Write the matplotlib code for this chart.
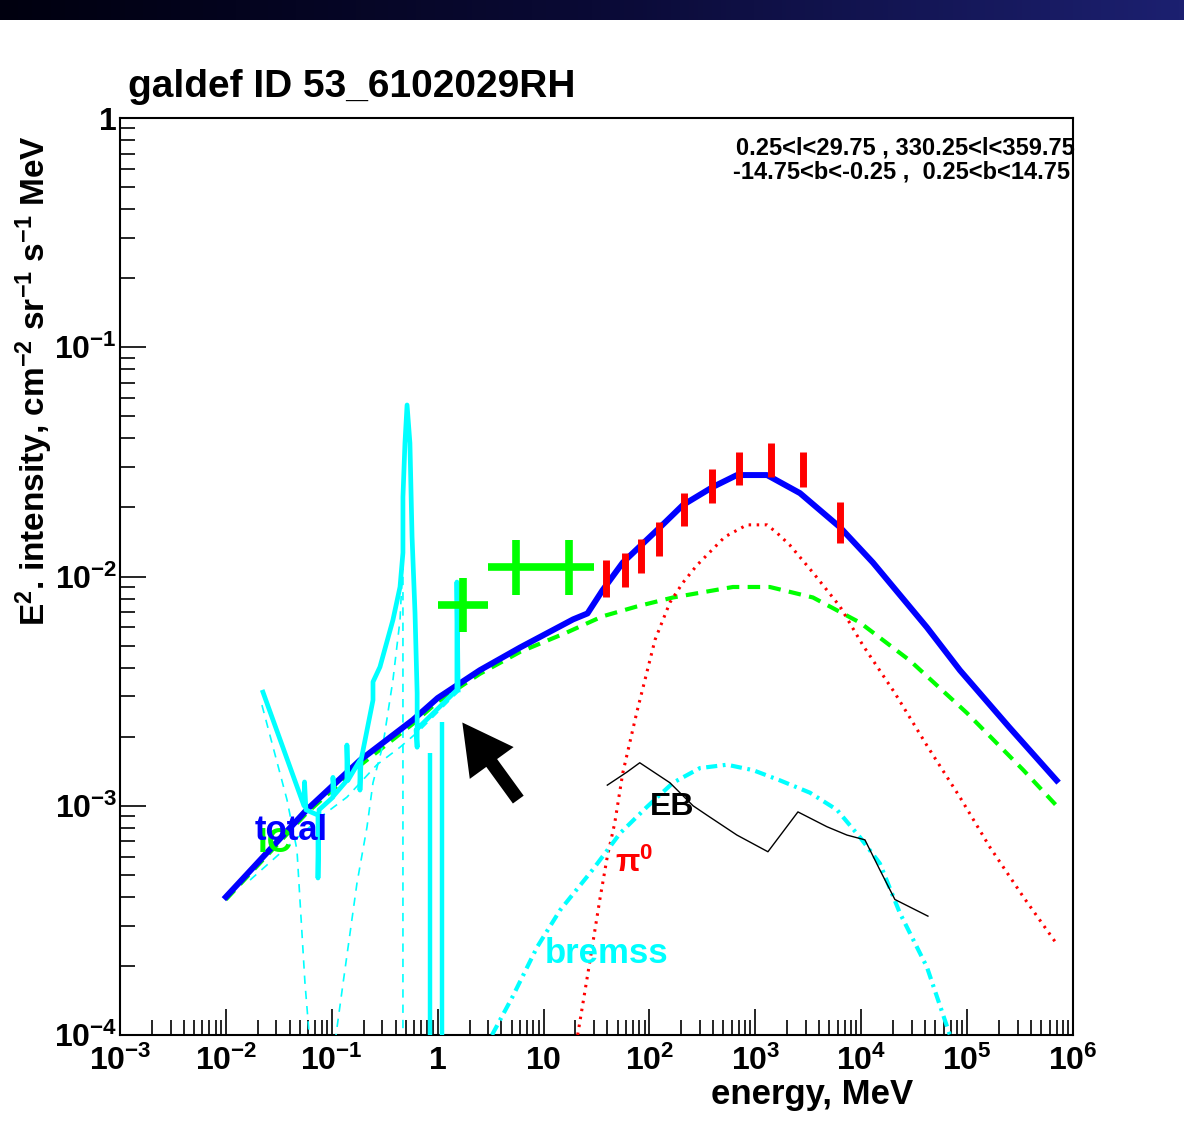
import numpy as np
import matplotlib
matplotlib.use('Agg')
import matplotlib.pyplot as plt
from matplotlib.ticker import LogLocator, FixedLocator, FixedFormatter, NullFormatter
from matplotlib.colors import LinearSegmentedColormap

# ---------------- data ----------------
# total model
E_total = [0.01, 0.058, 0.185, 0.585, 1.0, 2.5, 6.0, 19, 26, 36, 56, 126, 207, 398,
           670, 1290, 2640, 6300, 12900, 41700, 85500, 2.5e5, 7.0e5]
I_total = [4.0e-4, 9.6e-4, 1.58e-3, 2.37e-3, 2.95e-3, 3.9e-3, 4.9e-3, 6.5e-3, 6.9e-3,
           8.7e-3, 1.15e-2, 1.64e-2, 2.05e-2, 2.46e-2, 2.77e-2, 2.77e-2, 2.31e-2,
           1.64e-2, 1.15e-2, 6.0e-3, 3.9e-3, 2.2e-3, 1.29e-3]
# inverse Compton
E_ic = [0.01, 0.058, 0.185, 0.585, 1.0, 2.5, 6.0, 16.6, 36, 76, 167, 614, 1370, 3500,
        9700, 28800, 99500, 3.4e5, 7.0e5]
I_ic = [3.9e-4, 9.3e-4, 1.5e-3, 2.28e-3, 2.84e-3, 3.76e-3, 4.69e-3, 5.7e-3, 6.7e-3,
        7.4e-3, 8.1e-3, 9.0e-3, 9.0e-3, 8.1e-3, 6.3e-3, 4.3e-3, 2.54e-3, 1.43e-3, 1.0e-3]
# pi0 decay
E_pi0 = [21, 27.4, 34, 40, 47, 56, 76, 113, 156, 207, 281, 516, 833, 1290, 1600, 2120,
         3500, 6300, 10400, 20800, 42700, 85500, 1.64e5, 3.4e5, 7.0e5]
I_pi0 = [1.0e-4, 2.1e-4, 3.9e-4, 6.0e-4, 8.4e-4, 1.39e-3, 2.56e-3, 5.3e-3, 7.7e-3,
         9.4e-3, 1.12e-2, 1.49e-2, 1.68e-2, 1.68e-2, 1.55e-2, 1.37e-2, 1.04e-2, 7.4e-3,
         5.0e-3, 3.1e-3, 1.8e-3, 1.09e-3, 6.6e-4, 4.0e-4, 2.5e-4]
# bremsstrahlung
E_br = [3.26, 5.1, 8.7, 14.3, 29, 53, 95, 167, 300, 540, 950, 1710, 3280, 5900, 9700,
        15000, 23200, 41700, 68800]
I_br = [1.0e-4, 1.47e-4, 2.42e-4, 3.5e-4, 5.25e-4, 7.6e-4, 9.9e-4, 1.26e-3, 1.46e-3,
        1.51e-3, 1.43e-3, 1.29e-3, 1.14e-3, 9.6e-4, 7.3e-4, 5.6e-4, 3.4e-4, 1.98e-4, 1.0e-4]
# extragalactic background
E_eb = [40, 61, 81, 156, 258, 349, 670, 1315, 2525, 4745, 7330, 10840, 15000, 20800, 42650]
I_eb = [1.23e-3, 1.40e-3, 1.54e-3, 1.26e-3, 1.0e-3, 9.1e-4, 7.45e-4, 6.3e-4, 9.4e-4,
        8.1e-4, 7.45e-4, 7.1e-4, 5.25e-4, 3.9e-4, 3.3e-4]
# COMPTEL points (green crosses)
comptel_E_lo = [1, 3, 10]
comptel_E_hi = [3, 10, 30]
comptel_I = [7.5e-3, 1.10e-2, 1.10e-2]
comptel_I_lo = [5.7e-3, 8.3e-3, 8.3e-3]
comptel_I_hi = [9.9e-3, 1.44e-2, 1.44e-2]
# EGRET points (red bars)
egret_E_lo = [30, 50, 70, 100, 150, 300, 500, 1000, 2000, 4000]
egret_E_hi = [50, 70, 100, 150, 300, 500, 1000, 2000, 4000, 10000]
egret_I_lo = [8.1e-3, 9.0e-3, 1.04e-2, 1.23e-2, 1.66e-2, 2.09e-2, 2.51e-2, 2.72e-2, 2.46e-2, 1.40e-2]
egret_I_hi = [1.18e-2, 1.27e-2, 1.46e-2, 1.73e-2, 2.31e-2, 2.94e-2, 3.49e-2, 3.82e-2, 3.49e-2, 2.11e-2]
# low-energy spectrum (thick cyan, with spikes)
E_lowspec = [0.0224, 0.0546, 0.0553, 0.0570, 0.0741, 0.0741, 0.0758, 0.1026, 0.1026,
             0.105, 0.139, 0.139, 0.142, 0.1845, 0.1845, 0.189, 0.245, 0.245, 0.285,
             0.378, 0.441, 0.470, 0.470, 0.491, 0.514, 0.547, 0.573, 0.611, 0.640,
             0.640, 0.625, 1.52, 1.52, 1.56]
I_lowspec = [3.13e-3, 1.0e-3, 1.27e-3, 9.6e-4, 9.1e-4, 4.84e-4, 9.6e-4, 1.09e-3, 1.33e-3,
             1.11e-3, 1.29e-3, 1.84e-3, 1.29e-3, 1.58e-3, 1.17e-3, 1.58e-3, 2.89e-3,
             3.47e-3, 4.03e-3, 6.46e-3, 9.0e-3, 1.27e-2, 2.22e-2, 3.82e-2, 5.6e-2,
             3.82e-2, 1.49e-2, 6.93e-3, 3.10e-3, 1.80e-3, 2.14e-3, 3.20e-3, 9.46e-3, 3.20e-3]
spike_E = [0.845, 1.10]
spike_I_top = [1.70e-3, 2.32e-3]
spike_I_bot = [1e-6, 1e-6]
# thin dashed cyan components
E_d1 = [0.0219, 0.0378, 0.0469, 0.0558, 0.0637]
I_d1 = [2.75e-3, 1.06e-3, 6.41e-4, 1.69e-4, 8e-5]
E_d2 = [0.1026, 0.128, 0.173, 0.215, 0.245, 0.304, 0.378, 0.441, 0.470, 0.470]
I_d2 = [8e-5, 1.69e-4, 4.6e-4, 8.07e-4, 1.26e-3, 1.84e-3, 3.53e-3, 6.46e-3, 1.18e-2, 8e-5]
E_d3 = [0.0169, 0.0826, 0.139, 0.267, 0.441, 0.681, 1.39, 1.64]
I_d3 = [4.74e-4, 9.1e-4, 1.09e-3, 1.51e-3, 1.80e-3, 2.14e-3, 2.98e-3, 3.20e-3]

x_ticks = [1e-3, 1e-2, 1e-1, 1, 10, 1e2, 1e3, 1e4, 1e5, 1e6]
x_ticklabels = [r'$\mathbf{10^{-3}}$', r'$\mathbf{10^{-2}}$', r'$\mathbf{10^{-1}}$', r'$\mathbf{1}$',
                r'$\mathbf{10}$', r'$\mathbf{10^{2}}$', r'$\mathbf{10^{3}}$', r'$\mathbf{10^{4}}$',
                r'$\mathbf{10^{5}}$', r'$\mathbf{10^{6}}$']
y_ticks = [1e-4, 1e-3, 1e-2, 1e-1, 1]
y_ticklabels = [r'$\mathbf{10^{-4}}$', r'$\mathbf{10^{-3}}$', r'$\mathbf{10^{-2}}$',
                r'$\mathbf{10^{-1}}$', r'$\mathbf{1}$']

# ---------------- style ----------------
plt.rcParams['font.family'] = ['Liberation Sans', 'DejaVu Sans']
plt.rcParams['mathtext.fontset'] = 'custom'
plt.rcParams['mathtext.rm'] = 'Liberation Sans'
plt.rcParams['mathtext.bf'] = 'Liberation Sans:bold'
plt.rcParams['mathtext.it'] = 'Liberation Sans:italic'
plt.rcParams['lines.scale_dashes'] = False

W, H = 1184, 1145
DPI = 100
fig = plt.figure(figsize=(W / DPI, H / DPI), dpi=DPI)
fig.patch.set_facecolor('white')


def fx(px):
    return px / W


def fy(py):
    return 1 - py / H


# top gradient bar
bar = fig.add_axes([0, fy(20), 1, 20 / H])
cmap = LinearSegmentedColormap.from_list('bar', ['#00000f', '#0a0a35', '#1c2070'])
bar.imshow(np.linspace(0, 1, 256)[None, :], aspect='auto', cmap=cmap, extent=[0, 1, 0, 1])
bar.axis('off')

ax = fig.add_axes([fx(120), fy(1035), fx(1073) - fx(120), fy(118) - fy(1035)])
ax.set_xscale('log')
ax.set_yscale('log')
ax.set_xlim(1e-3, 1e6)
ax.set_ylim(1e-4, 1)

BLUE = '#0000ff'
GREEN = '#00ff00'
RED = '#ff0000'
CYAN = '#00ffff'

ax.plot(E_ic, I_ic, color=GREEN, lw=3.0, dashes=(9, 6), zorder=3)
ax.plot(E_pi0, I_pi0, color=RED, lw=2.2, dashes=(1.8, 4.0), zorder=3)
ax.plot(E_br, I_br, color=CYAN, lw=3.0, dashes=(8, 4, 2, 4), zorder=3)
ax.plot(E_eb, I_eb, color='black', lw=1.0, zorder=3)
for e, i in ((E_d1, I_d1), (E_d2, I_d2), (E_d3, I_d3)):
    ax.plot(e, i, color=CYAN, lw=1.2, dashes=(6, 5), zorder=3)

ax.plot(E_total, I_total, color=BLUE, lw=4.3, solid_joinstyle='round', zorder=5)

ax.plot(E_lowspec, I_lowspec, color=CYAN, lw=3.4, zorder=6)
ax.vlines(spike_E, spike_I_bot, spike_I_top, color=CYAN, lw=3.2, zorder=6)

c_lo = np.array(comptel_E_lo, float)
c_hi = np.array(comptel_E_hi, float)
c_mid = np.sqrt(c_lo * c_hi)
c_I = np.array(comptel_I)
ax.errorbar(c_mid, c_I, xerr=[c_mid - c_lo, c_hi - c_mid],
            yerr=[c_I - np.array(comptel_I_lo), np.array(comptel_I_hi) - c_I],
            fmt='none', ecolor=GREEN, elinewidth=5.5, capsize=0, zorder=7)

e_mid = np.sqrt(np.array(egret_E_lo, float) * np.array(egret_E_hi, float))
ax.vlines(e_mid, egret_I_lo, egret_I_hi, color=RED, lw=5.0, zorder=8)

# labels on curves
ax.text(0.0201, 6.28e-4, 'IC', color=GREEN, fontsize=25, fontweight='bold', zorder=8)
ax.text(0.0188, 7.1e-4, 'total', color=BLUE, fontsize=25, fontweight='bold', zorder=9)
ax.text(101, 9.1e-4, 'EB', color='black', fontsize=23, fontweight='bold', zorder=9)
ax.text(47.2, 5.14e-4, r'π$^{\mathbf{0}}$', color=RED, fontsize=23, fontweight='bold', zorder=9)
ax.text(10.3, 2.06e-4, 'bremss', color=CYAN, fontsize=25, fontweight='bold', zorder=9)

# arrow
ax.annotate('', xy=(1.65, 2.36e-3), xytext=(5.98, 1.04e-3),
            arrowprops=dict(arrowstyle='simple,head_length=1.2,head_width=1.3,tail_width=0.32',
                            mutation_scale=30, color='black', lw=0),
            zorder=10)

# axes / ticks
ax.xaxis.set_major_locator(FixedLocator(x_ticks))
ax.xaxis.set_major_formatter(FixedFormatter(x_ticklabels))
ax.yaxis.set_major_locator(FixedLocator(y_ticks))
ax.yaxis.set_major_formatter(FixedFormatter(y_ticklabels))
ax.xaxis.set_minor_locator(LogLocator(base=10, subs=np.arange(2, 10), numticks=100))
ax.yaxis.set_minor_locator(LogLocator(base=10, subs=np.arange(2, 10), numticks=100))
ax.xaxis.set_minor_formatter(NullFormatter())
ax.yaxis.set_minor_formatter(NullFormatter())
ax.tick_params(which='both', direction='in', top=False, right=False, width=1.2, color='black')
ax.tick_params(which='major', length=19, labelsize=23)
ax.tick_params(which='minor', length=10.5)
ax.tick_params(axis='x', which='major', pad=8)
ax.tick_params(axis='y', which='major', pad=2)
for s in ax.spines.values():
    s.set_linewidth(1.5)
    s.set_color('black')

# texts
fig.text(fx(128), fy(97), 'galdef ID 53_6102029RH', fontsize=28, fontweight='bold',
         ha='left', va='baseline')
fig.text(fx(1075), fy(154), '0.25<l<29.75 , 330.25<l<359.75', fontsize=17,
         fontweight='bold', ha='right', va='baseline')
fig.text(fx(1070), fy(178), '-14.75<b<-0.25 ,  0.25<b<14.75', fontsize=17,
         fontweight='bold', ha='right', va='baseline')
fig.text(fx(913), fy(1104), 'energy, MeV', fontsize=25, fontweight='bold',
         ha='right', va='baseline')
fig.text(fx(34), fy(135),
         r'E$^{\mathbf{2}}$. intensity, cm$^{\mathbf{-2}}$ sr$^{\mathbf{-1}}$ s$^{\mathbf{-1}}$ MeV',
         fontsize=24, fontweight='bold', rotation=90, ha='center', va='top')

fig.savefig('out.png', dpi=DPI)
